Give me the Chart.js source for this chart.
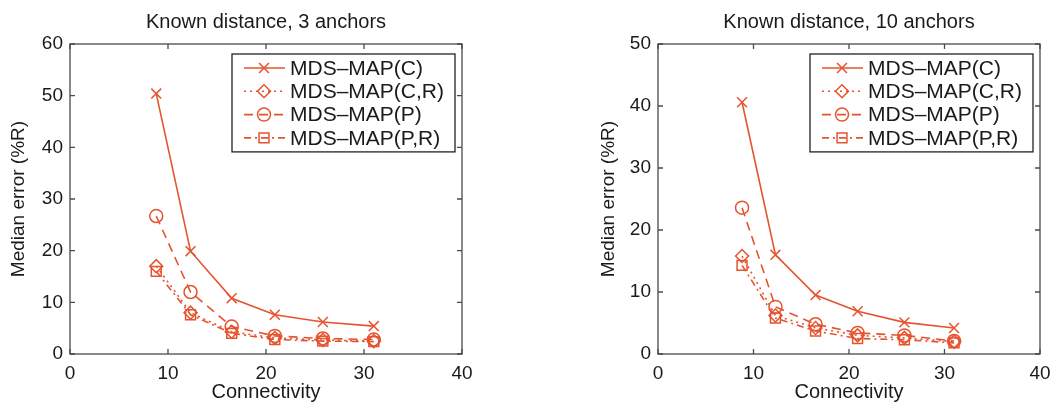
<!DOCTYPE html>
<html lang="en">
<head>
<meta charset="UTF-8">
<title>MDS-MAP median error vs connectivity</title>
<script src="https://cdn.jsdelivr.net/npm/chart.js"></script>
<style>
  html, body { margin: 0; padding: 0; background: #fff; }
  .wrap { position: relative; width: 1050px; height: 408px; overflow: hidden; }
  .panel { position: absolute; top: 0; width: 525px; height: 408px; }
  #left { left: 0; }
  #right { left: 525px; }
</style>
</head>
<body>
<div class="wrap">
  <div class="panel" id="left"><canvas id="chart3" width="525" height="408"></canvas></div>
  <div class="panel" id="right"><canvas id="chart10" width="525" height="408"></canvas></div>
</div>

<script>
// connectivity values shared by both panels
const connectivity = [8.8, 12.3, 16.5, 20.9, 25.8, 31.0];
const seriesNames = ['MDS\u2013MAP(C)', 'MDS\u2013MAP(C,R)', 'MDS\u2013MAP(P)', 'MDS\u2013MAP(P,R)'];
const xTicks = [0, 10, 20, 30, 40];

// median error (%R), 3 anchors
const err3C  = [50.4, 19.9, 10.8, 7.6, 6.2, 5.4];
const err3CR = [17.0, 8.0, 4.3, 3.1, 2.7, 2.5];
const err3P  = [26.7, 12.0, 5.3, 3.5, 3.0, 2.8];
const err3PR = [16.0, 7.6, 4.0, 2.8, 2.5, 2.4];
const yTicks3 = [0, 10, 20, 30, 40, 50, 60];

// median error (%R), 10 anchors
const err10C  = [40.6, 16.0, 9.5, 6.9, 5.1, 4.2];
const err10CR = [15.8, 6.2, 4.2, 3.0, 2.6, 2.0];
const err10P  = [23.6, 7.6, 4.8, 3.4, 3.0, 2.1];
const err10PR = [14.3, 5.8, 3.7, 2.5, 2.3, 1.8];
const yTicks10 = [0, 10, 20, 30, 40, 50];

const RED = '#e6532f';
const INK = '#1a1a1a';
const FONT = "'Liberation Sans', Arial, Helvetica, sans-serif";

Chart.defaults.font.family = FONT;
Chart.defaults.font.size = 19;
Chart.defaults.color = INK;

// line style + marker for each series
const styles = [
  { dash: [],           pointStyle: 'crossRot', radius: 7 },
  { dash: [2, 4],       pointStyle: 'rectRot',  radius: 6.5 },
  { dash: [9, 6],       pointStyle: 'circle',   radius: 6.5 },
  { dash: [7, 4, 2, 4], pointStyle: 'rect',     radius: 7 }
];

function toPoints(values) {
  return values.map((v, i) => ({ x: connectivity[i], y: v }));
}

function buildDatasets(lists) {
  return lists.map((vals, i) => ({
    label: seriesNames[i],
    data: toPoints(vals),
    borderColor: RED,
    borderWidth: 1.6,
    borderDash: styles[i].dash,
    pointStyle: styles[i].pointStyle,
    pointRadius: styles[i].radius,
    pointBorderWidth: 1.5,
    pointBorderColor: RED,
    pointBackgroundColor: 'rgba(0,0,0,0)',
    tension: 0,
    fill: false
  }));
}

// box around the axes with inward ticks on all four sides
const framePlugin = {
  id: 'frame',
  beforeDatasetsDraw(chart) {
    const { ctx, chartArea: a, scales: { x, y } } = chart;
    ctx.save();
    ctx.strokeStyle = '#4a4a4a';
    ctx.lineWidth = 1.3;
    ctx.strokeRect(a.left, a.top, a.right - a.left, a.bottom - a.top);
    ctx.beginPath();
    x.ticks.forEach(t => {
      const px = x.getPixelForValue(t.value);
      ctx.moveTo(px, a.bottom); ctx.lineTo(px, a.bottom - 5);
      ctx.moveTo(px, a.top);    ctx.lineTo(px, a.top + 5);
    });
    y.ticks.forEach(t => {
      const py = y.getPixelForValue(t.value);
      ctx.moveTo(a.left, py);  ctx.lineTo(a.left + 5, py);
      ctx.moveTo(a.right, py); ctx.lineTo(a.right - 5, py);
    });
    ctx.stroke();
    ctx.restore();
  }
};

// legend box in the upper right corner of the axes
const boxLegendPlugin = {
  id: 'boxLegend',
  afterDatasetsDraw(chart) {
    const { ctx, chartArea: a } = chart;
    const sets = chart.data.datasets;
    ctx.save();
    ctx.font = '21px ' + FONT;
    const textW = Math.max(...sets.map(d => ctx.measureText(d.label).width));
    const textX = 58;
    const boxW = textX + textW + 11;
    const rowH = 23.3;
    const boxH = 14 * 2 + rowH * (sets.length - 1);
    const x0 = a.right - 7 - boxW;
    const y0 = a.top + 10;

    ctx.fillStyle = '#fff';
    ctx.fillRect(x0, y0, boxW, boxH);
    ctx.strokeStyle = '#222';
    ctx.lineWidth = 1.3;
    ctx.strokeRect(x0, y0, boxW, boxH);

    sets.forEach((d, i) => {
      const cy = y0 + 14 + i * rowH;
      ctx.strokeStyle = d.borderColor;
      ctx.lineWidth = d.borderWidth;
      ctx.setLineDash(d.borderDash);
      ctx.beginPath();
      ctx.moveTo(x0 + 12, cy);
      ctx.lineTo(x0 + 53, cy);
      ctx.stroke();
      ctx.setLineDash([]);
      ctx.lineWidth = d.pointBorderWidth;
      ctx.fillStyle = 'rgba(0,0,0,0)';
      Chart.helpers.drawPoint(ctx, {
        pointStyle: d.pointStyle,
        radius: d.pointRadius,
        rotation: 0,
        borderWidth: d.pointBorderWidth
      }, x0 + 32, cy);
      ctx.fillStyle = INK;
      ctx.textBaseline = 'middle';
      ctx.textAlign = 'left';
      ctx.fillText(d.label, x0 + textX, cy + 1);
    });
    ctx.restore();
  }
};

// panel heading centred over the axes
const headingPlugin = {
  id: 'heading',
  afterDraw(chart, args, opts) {
    const { ctx, chartArea: a } = chart;
    ctx.save();
    ctx.font = '20px ' + FONT;
    ctx.fillStyle = INK;
    ctx.textAlign = 'center';
    ctx.textBaseline = 'middle';
    ctx.fillText(opts.text, (a.left + a.right) / 2, 22);
    ctx.restore();
  }
};

function makeChart(id, heading, lists, yTicks, pad, yWidth) {
  const yMax = yTicks[yTicks.length - 1];
  return new Chart(document.getElementById(id), {
    type: 'line',
    data: { datasets: buildDatasets(lists) },
    plugins: [framePlugin, boxLegendPlugin, headingPlugin],
    options: {
      responsive: false,
      animation: false,
      layout: { padding: pad },
      plugins: {
        legend: { display: false },
        tooltip: { enabled: false },
        heading: { text: heading }
      },
      scales: {
        x: {
          type: 'linear',
          min: 0,
          max: 40,
          afterBuildTicks: s => { s.ticks = xTicks.map(v => ({ value: v })); },
          grid: { display: false, drawTicks: false },
          border: { display: false },
          ticks: { padding: 8, color: INK, font: { size: 19 } },
          title: { display: true, text: 'Connectivity', color: INK, font: { size: 20 }, padding: { top: 0, bottom: 4 } },
          afterFit: s => { s.height = 54; s.paddingLeft = 0; s.paddingRight = 0; }
        },
        y: {
          type: 'linear',
          min: 0,
          max: yMax,
          afterBuildTicks: s => { s.ticks = yTicks.map(v => ({ value: v })); },
          grid: { display: false, drawTicks: false },
          border: { display: false },
          ticks: { padding: 7, color: INK, font: { size: 19 } },
          title: { display: true, text: 'Median error (%R)', color: INK, font: { size: 19 }, padding: { top: 7, bottom: 0 } },
          afterFit: s => { s.width = yWidth; s.paddingTop = 0; s.paddingBottom = 0; }
        }
      }
    }
  });
}

makeChart('chart3', 'Known distance, 3 anchors',
  [err3C, err3CR, err3P, err3PR], yTicks3,
  { top: 44, left: 0, right: 63, bottom: 0 }, 70);

makeChart('chart10', 'Known distance, 10 anchors',
  [err10C, err10CR, err10P, err10PR], yTicks10,
  { top: 44, left: 65, right: 10, bottom: 0 }, 68);
</script>
</body>
</html>
